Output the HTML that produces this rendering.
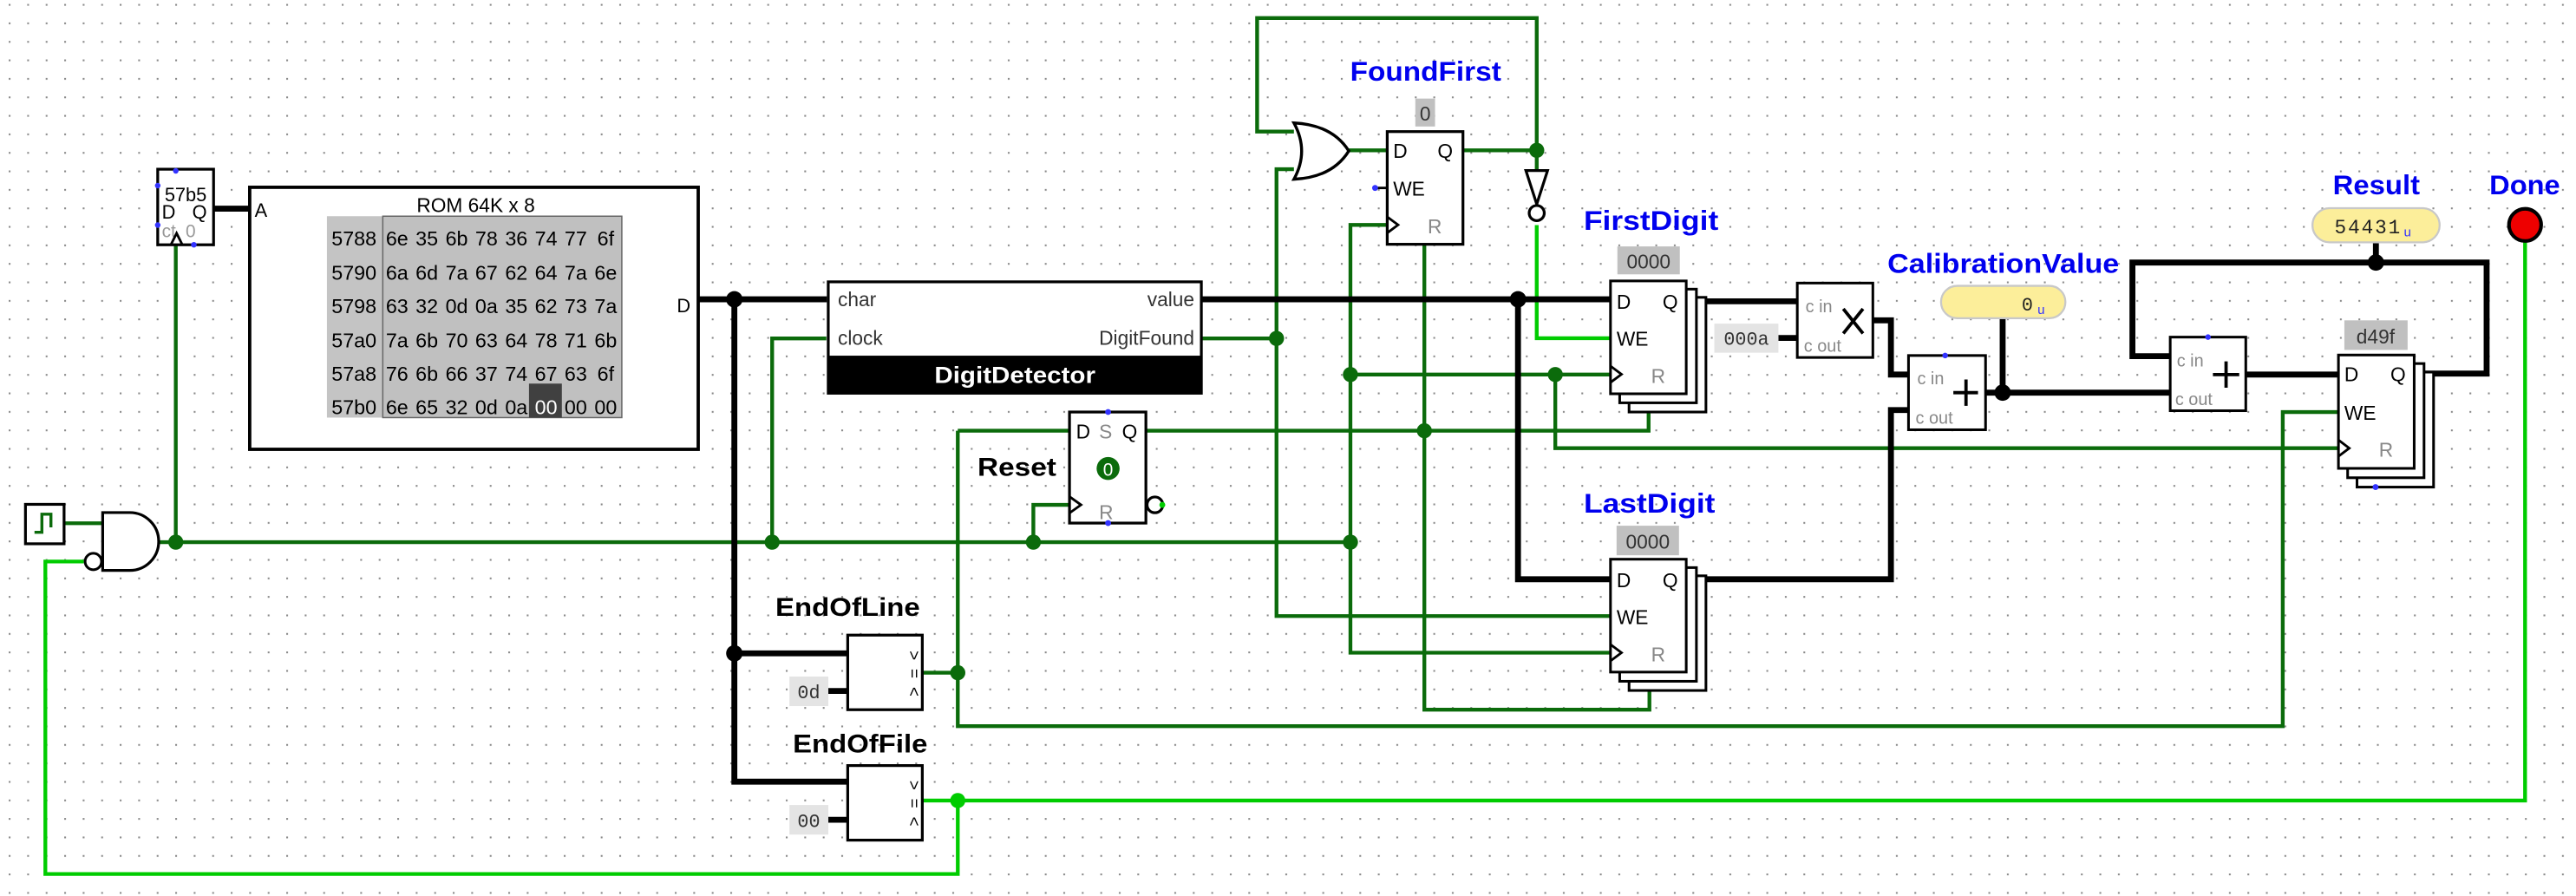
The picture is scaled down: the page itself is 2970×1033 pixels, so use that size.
<!DOCTYPE html>
<html><head><meta charset="utf-8"><style>
html,body{margin:0;padding:0;background:#fff;}
svg{display:block;}
text{font-family:"Liberation Sans",sans-serif;}
.lb{font-weight:bold;fill:#0000ee;font-size:16.5px;}
.bl{font-weight:bold;fill:#000;font-size:15.5px;}
.mono{font-family:"Liberation Mono",monospace;}
</style></head><body>
<svg width="2970" height="1033" viewBox="0 0 1568 545.4" preserveAspectRatio="none" xmlns="http://www.w3.org/2000/svg">
<defs>
<pattern id="g" x="5.3" y="2.4" width="11.262" height="11.262" patternUnits="userSpaceOnUse"><rect x="0" y="0" width="1.1" height="1.1" fill="#8a8a8a"/></pattern>
</defs>
<rect width="1568" height="545.4" fill="#fff"/>
<rect width="1568" height="545.4" fill="url(#g)"/>

<!-- dark green wires -->
<g fill="none" stroke="#0b6b0b" stroke-width="2.3" stroke-linejoin="miter">
<path d="M39,318.5 H62.5"/>
<path d="M96.5,330 H822"/>
<path d="M107,330 V149"/>
<path d="M470,330 V206 H503"/>
<path d="M629,330 V307.3 H651"/>
<path d="M787.6,80.1 H765.2 V11 H935.4 V104"/>
<path d="M890.5,91.5 H935.4"/>
<path d="M821,91.5 H844.4"/>
<path d="M787.6,103 H777 V375 H980"/>
<path d="M732,206 H777"/>
<path d="M844.4,136.9 H822 V397.3 H980"/>
<path d="M822,228 H980"/>
<path d="M946.7,228 V272.8 H1423.4"/>
<path d="M867,148.7 V432 H1004 V419.6"/>
<path d="M697.5,262.2 H1003.5 V250.8"/>
<path d="M583,262.2 H651 M583,262.2 V442 H1389.5 V250.8 H1423.4"/>
<path d="M561.4,409.5 H583"/>
</g>
<!-- light green wires -->
<g fill="none" stroke="#00cc00" stroke-width="2.3">
<path d="M935.4,137 V205.9 H980"/>
<path d="M51,341.8 H27.6 V532 H583 V487.3"/>
<path d="M561.4,487.3 H1537 V147"/>
</g>
<!-- buses -->
<g fill="none" stroke="#000" stroke-width="3.6">
<path d="M130,127 H152"/>
<path d="M425,182.2 H503.3"/>
<path d="M447,182.2 V475.8 H516"/>
<path d="M447,397.7 H516"/>
<path d="M732,182.2 H980.3"/>
<path d="M924,182.2 V352.6 H980.3"/>
<path d="M1026.4,183.4 H1094"/>
<path d="M1082.5,205.7 H1094"/>
<path d="M1140,195 H1151 V228 H1161.7"/>
<path d="M1026.4,352.6 H1151 V249.6 H1161.7"/>
<path d="M1208.6,239 H1321"/>
<path d="M1219,193.7 V239"/>
<path d="M1367,228 H1423.4"/>
<path d="M1469.5,227.4 H1513.6 V159.8 H1298 V216.8 H1321"/>
<path d="M1446.2,147.5 V159.8"/>
<path d="M504.2,420.6 H516"/>
<path d="M504.2,499 H516"/>
</g>
<!-- junctions -->
<g fill="#000">
<circle cx="447" cy="182.2" r="5"/><circle cx="447" cy="397.7" r="5"/>
<circle cx="924" cy="182.2" r="5"/><circle cx="1219" cy="239" r="5"/>
<circle cx="1446.2" cy="159.8" r="5"/>
</g>
<g fill="#0b6b0b">
<circle cx="107" cy="330" r="4.6"/><circle cx="470" cy="330" r="4.6"/>
<circle cx="629" cy="330" r="4.6"/><circle cx="822" cy="330" r="4.6"/>
<circle cx="777" cy="206" r="4.6"/><circle cx="822" cy="228" r="4.6"/>
<circle cx="946.7" cy="228" r="4.6"/><circle cx="867" cy="262.2" r="4.6"/>
<circle cx="935.4" cy="91.5" r="4.6"/><circle cx="583" cy="409.5" r="4.6"/>
</g>
<circle cx="583" cy="487.3" r="4.6" fill="#00cc00"/>

<!-- clock + AND -->
<rect x="15.5" y="307" width="23.5" height="24" fill="#fff" stroke="#000" stroke-width="1.7"/>
<path d="M21,324 H25.5 V313 H31 V321" fill="none" stroke="#0b6b0b" stroke-width="1.8"/>
<path d="M62.5,312 H79 A17.6,17.6 0 0 1 79,347.2 H62.5 Z" fill="#fff" stroke="#000" stroke-width="1.7"/>
<circle cx="56.8" cy="341.8" r="5" fill="#fff" stroke="#000" stroke-width="1.6"/>

<!-- counter register -->
<rect x="96" y="103" width="34" height="46" fill="#fff" stroke="#000" stroke-width="1.7"/>
<text x="113" y="122.5" font-size="11.5" text-anchor="middle">57b5</text>
<text x="98.5" y="133" font-size="11.5">D</text><text x="117" y="133" font-size="11.5">Q</text>
<text x="98.5" y="144.5" font-size="11" fill="#999">ct</text><text x="113" y="144.5" font-size="11" fill="#999">0</text>
<path d="M104,149 L107.5,142 L111,149" fill="none" stroke="#000" stroke-width="1.5"/>
<circle cx="107" cy="104" r="1.7" fill="#33f"/><circle cx="96" cy="113" r="1.7" fill="#33f"/><circle cx="96" cy="137" r="1.7" fill="#33f"/><circle cx="118" cy="149" r="1.7" fill="#33f"/>

<!-- ROM -->
<rect x="152" y="114" width="273" height="159.5" fill="#fff" stroke="#000" stroke-width="2"/>
<text x="155" y="132" font-size="11.5">A</text>
<text x="412" y="190" font-size="11.5">D</text>
<text x="289.6" y="129" font-size="12" text-anchor="middle">ROM 64K x 8</text>
<rect x="199" y="131.6" width="34" height="122.6" fill="#c4c4c4"/>
<rect x="233" y="131.6" width="145.5" height="122.6" fill="#c0c0c0" stroke="#666" stroke-width="0.8"/>
<rect x="322" y="233.5" width="20" height="20.7" fill="#404040"/>
<g font-size="12.3" text-anchor="middle">
<text x="215.5" y="149.5">5788</text><text x="215.5" y="170.2">5790</text><text x="215.5" y="190.7">5798</text><text x="215.5" y="211.5">57a0</text><text x="215.5" y="231.9">57a8</text><text x="215.5" y="252.2">57b0</text>
<text y="149.5"><tspan x="241.7">6e</tspan><tspan x="259.8">35</tspan><tspan x="278">6b</tspan><tspan x="296.1">78</tspan><tspan x="314.3">36</tspan><tspan x="332.4">74</tspan><tspan x="350.5">77</tspan><tspan x="368.7">6f</tspan></text>
<text y="170.2"><tspan x="241.7">6a</tspan><tspan x="259.8">6d</tspan><tspan x="278">7a</tspan><tspan x="296.1">67</tspan><tspan x="314.3">62</tspan><tspan x="332.4">64</tspan><tspan x="350.5">7a</tspan><tspan x="368.7">6e</tspan></text>
<text y="190.7"><tspan x="241.7">63</tspan><tspan x="259.8">32</tspan><tspan x="278">0d</tspan><tspan x="296.1">0a</tspan><tspan x="314.3">35</tspan><tspan x="332.4">62</tspan><tspan x="350.5">73</tspan><tspan x="368.7">7a</tspan></text>
<text y="211.5"><tspan x="241.7">7a</tspan><tspan x="259.8">6b</tspan><tspan x="278">70</tspan><tspan x="296.1">63</tspan><tspan x="314.3">64</tspan><tspan x="332.4">78</tspan><tspan x="350.5">71</tspan><tspan x="368.7">6b</tspan></text>
<text y="231.9"><tspan x="241.7">76</tspan><tspan x="259.8">6b</tspan><tspan x="278">66</tspan><tspan x="296.1">37</tspan><tspan x="314.3">74</tspan><tspan x="332.4">67</tspan><tspan x="350.5">63</tspan><tspan x="368.7">6f</tspan></text>
<text y="252.2"><tspan x="241.7">6e</tspan><tspan x="259.8">65</tspan><tspan x="278">32</tspan><tspan x="296.1">0d</tspan><tspan x="314.3">0a</tspan><tspan x="332.4" fill="#fff">00</tspan><tspan x="350.5">00</tspan><tspan x="368.7">00</tspan></text>
</g>

<!-- DigitDetector -->
<rect x="503.3" y="170.7" width="228.8" height="69.5" fill="#000"/>
<rect x="505" y="172.4" width="225.4" height="44.1" fill="#fff"/>
<text x="510" y="186.5" font-size="12" fill="#333">char</text>
<text x="510" y="210" font-size="12" fill="#333">clock</text>
<text x="727" y="186.5" font-size="12" fill="#333" text-anchor="end">value</text>
<text x="727" y="210" font-size="12" fill="#333" text-anchor="end">DigitFound</text>
<text x="617.8" y="233" font-size="14" font-weight="bold" fill="#fff" text-anchor="middle" textLength="98" lengthAdjust="spacingAndGlyphs">DigitDetector</text>

<!-- OR gate -->
<path d="M787.6,74.8 Q811,76 821,91.9 Q811,108 787.6,109.1 Q797,92 787.6,74.8 Z" fill="#fff" stroke="#000" stroke-width="1.8"/>
<!-- FoundFirst reg -->
<text x="867.8" y="49" class="lb" text-anchor="middle" textLength="92" lengthAdjust="spacingAndGlyphs">FoundFirst</text>
<rect x="861.5" y="60" width="12" height="17" fill="#c0c0c0"/>
<text x="867.5" y="73.5" font-size="12" fill="#333" text-anchor="middle">0</text>
<rect x="844.4" y="80.1" width="46.1" height="68.6" fill="#fff" stroke="#000" stroke-width="1.7"/>
<text x="848" y="96" font-size="12">D</text><text x="875" y="96" font-size="12">Q</text>
<text x="848" y="119" font-size="12">WE</text>
<text x="869" y="142" font-size="12" fill="#888">R</text>
<path d="M844.4,132 L851,136.9 L844.4,141.8" fill="none" stroke="#000" stroke-width="1.5"/>
<path d="M838,114.4 H844.4" stroke="#000" stroke-width="1.5"/><circle cx="837" cy="114.4" r="1.8" fill="#33f"/>
<!-- NOT -->
<path d="M928.8,103.8 H942 L935.4,124.3 Z" fill="#fff" stroke="#000" stroke-width="1.7"/>
<circle cx="935.4" cy="129.7" r="4.6" fill="#fff" stroke="#000" stroke-width="1.7"/>

<!-- FirstDigit -->
<text x="1005" y="140" class="lb" text-anchor="middle" textLength="82" lengthAdjust="spacingAndGlyphs">FirstDigit</text>
<rect x="984.5" y="150" width="38" height="17" fill="#c0c0c0"/>
<text x="1003.5" y="163.5" font-size="12" fill="#333" text-anchor="middle">0000</text>
<g fill="#fff" stroke="#000" stroke-width="1.6">
<rect x="991.6" y="181" width="46.8" height="69.8"/>
<rect x="985.9" y="176" width="46.7" height="69.2"/>
<rect x="980.3" y="171" width="46.1" height="68.7"/>
</g>
<text x="984" y="188" font-size="12">D</text><text x="1012" y="188" font-size="12">Q</text>
<text x="984" y="210.5" font-size="12">WE</text>
<text x="1005" y="233" font-size="12" fill="#888">R</text>
<path d="M980.3,222.8 L987,227.8 L980.3,232.8" fill="none" stroke="#000" stroke-width="1.5"/>

<!-- LastDigit -->
<text x="1004" y="312" class="lb" text-anchor="middle" textLength="80" lengthAdjust="spacingAndGlyphs">LastDigit</text>
<rect x="984" y="320" width="38" height="18" fill="#c0c0c0"/>
<text x="1003" y="334" font-size="12" fill="#333" text-anchor="middle">0000</text>
<g fill="#fff" stroke="#000" stroke-width="1.6">
<rect x="991.6" y="350.5" width="46.8" height="69.8"/>
<rect x="985.9" y="345.5" width="46.7" height="69.2"/>
<rect x="980.3" y="340.4" width="46.1" height="68.7"/>
</g>
<text x="984" y="357.5" font-size="12">D</text><text x="1012" y="357.5" font-size="12">Q</text>
<text x="984" y="380" font-size="12">WE</text>
<text x="1005" y="402.5" font-size="12" fill="#888">R</text>
<path d="M980.3,392.3 L987,397.3 L980.3,402.3" fill="none" stroke="#000" stroke-width="1.5"/>

<!-- Multiplier -->
<rect x="1082.5" y="197" width="0" height="0"/>
<rect x="1043.5" y="197" width="39" height="17.7" fill="#e4e4e4"/>
<text x="1063" y="210" font-size="11.5" class="mono" fill="#333" text-anchor="middle">000a</text>
<rect x="1094" y="172.3" width="46" height="45.3" fill="#fff" stroke="#000" stroke-width="1.6"/>
<text x="1099" y="190" font-size="10.5" fill="#888">c in</text>
<text x="1098" y="214" font-size="10.5" fill="#888">c out</text>
<path d="M1122,188 L1134,203 M1134,188 L1122,203" stroke="#000" stroke-width="2"/>

<!-- Adder1 -->
<rect x="1161.7" y="216.4" width="46.9" height="45.2" fill="#fff" stroke="#000" stroke-width="1.6"/>
<text x="1167" y="234" font-size="10.5" fill="#888">c in</text>
<text x="1166" y="258" font-size="10.5" fill="#888">c out</text>
<path d="M1196.7,231 V247 M1189,239 H1204" stroke="#000" stroke-width="2"/>
<circle cx="1184" cy="216.4" r="1.7" fill="#33f"/>
<!-- CalibrationValue -->
<text x="1219.4" y="166" class="lb" text-anchor="middle" textLength="141" lengthAdjust="spacingAndGlyphs">CalibrationValue</text>
<rect x="1181.5" y="174" width="75.7" height="19.7" rx="9.8" fill="#fcee9a" stroke="#c8c8c8" stroke-width="1.2"/>
<text x="1234" y="189" font-size="11.5" class="mono" fill="#222" text-anchor="middle">0</text>
<text x="1240" y="191" font-size="8" class="mono" fill="#33f">u</text>

<!-- Adder2 -->
<rect x="1321" y="205.2" width="46" height="44.8" fill="#fff" stroke="#000" stroke-width="1.6"/>
<text x="1325" y="223" font-size="10.5" fill="#888">c in</text>
<text x="1324" y="246.5" font-size="10.5" fill="#888">c out</text>
<path d="M1355,220 V236 M1347,228 H1363" stroke="#000" stroke-width="2"/>
<circle cx="1344" cy="205.2" r="1.7" fill="#33f"/>

<!-- Result register -->
<rect x="1427" y="195" width="38.5" height="18" fill="#c0c0c0"/>
<text x="1446" y="209" font-size="12" fill="#333" text-anchor="middle">d49f</text>
<g fill="#fff" stroke="#000" stroke-width="1.6">
<rect x="1434.7" y="226.5" width="46.6" height="70"/>
<rect x="1429" y="221.3" width="46.5" height="69.5"/>
<rect x="1423.4" y="216.1" width="46.1" height="69"/>
</g>
<text x="1427" y="232" font-size="12">D</text><text x="1455" y="232" font-size="12">Q</text>
<text x="1427" y="255.5" font-size="12">WE</text>
<text x="1448" y="278" font-size="12" fill="#888">R</text>
<path d="M1423.4,267.8 L1430,272.8 L1423.4,277.8" fill="none" stroke="#000" stroke-width="1.5"/>
<circle cx="1446" cy="296.5" r="1.8" fill="#33f"/>

<!-- Result probe & Done -->
<text x="1446.5" y="118.3" class="lb" text-anchor="middle" textLength="53" lengthAdjust="spacingAndGlyphs">Result</text>
<rect x="1407.6" y="126.7" width="77.4" height="20.8" rx="10.4" fill="#fcee9a" stroke="#c8c8c8" stroke-width="1.2"/>
<text x="1441" y="142" font-size="12" class="mono" fill="#222" text-anchor="middle" textLength="40" lengthAdjust="spacing">54431</text>
<text x="1463" y="144" font-size="8" class="mono" fill="#33f">u</text>
<text x="1536.8" y="118.3" class="lb" text-anchor="middle" textLength="43" lengthAdjust="spacingAndGlyphs">Done</text>
<circle cx="1537" cy="136.9" r="9.8" fill="#ee0000" stroke="#000" stroke-width="2.2"/>

<!-- Reset -->
<text x="619" y="289.5" class="bl" text-anchor="middle" textLength="48" lengthAdjust="spacingAndGlyphs">Reset</text>
<rect x="651" y="250.8" width="46.5" height="67.6" fill="#fff" stroke="#000" stroke-width="1.7"/>
<text x="655" y="267" font-size="12">D</text>
<text x="669" y="267" font-size="12" fill="#888">S</text>
<text x="683" y="267" font-size="12">Q</text>
<circle cx="674.5" cy="285.2" r="7" fill="#0b6b0b"/>
<text x="674.5" y="289.5" font-size="11" fill="#fff" text-anchor="middle">0</text>
<text x="669" y="316" font-size="12" fill="#888">R</text>
<path d="M651,302.3 L658,307.3 L651,312.3" fill="none" stroke="#000" stroke-width="1.5"/>
<circle cx="703" cy="307.3" r="4.8" fill="#fff" stroke="#000" stroke-width="1.7"/>
<circle cx="707.5" cy="307.3" r="1.8" fill="#00cc00"/>
<circle cx="674.5" cy="250.8" r="1.8" fill="#33f"/><circle cx="674.5" cy="318.4" r="1.8" fill="#33f"/>

<!-- EndOfLine -->
<text x="516" y="375" class="bl" text-anchor="middle" textLength="88" lengthAdjust="spacingAndGlyphs">EndOfLine</text>
<rect x="480.5" y="411.8" width="23.7" height="18" fill="#e4e4e4"/>
<text x="492.3" y="425" font-size="11.5" class="mono" fill="#333" text-anchor="middle">0d</text>
<rect x="516" y="386.6" width="45.4" height="45.4" fill="#fff" stroke="#000" stroke-width="1.7"/>
<g font-size="10" fill="#000" text-anchor="middle">
<text transform="translate(553,399) rotate(90)">&gt;</text>
<text transform="translate(553,410) rotate(90)">=</text>
<text transform="translate(553,421) rotate(90)">&lt;</text>
</g>
<!-- EndOfFile -->
<text x="523.6" y="458" class="bl" text-anchor="middle" textLength="82" lengthAdjust="spacingAndGlyphs">EndOfFile</text>
<rect x="480.5" y="490" width="23.7" height="18" fill="#e4e4e4"/>
<text x="492.3" y="503.5" font-size="11.5" class="mono" fill="#333" text-anchor="middle">00</text>
<rect x="516" y="466" width="45.4" height="45.4" fill="#fff" stroke="#000" stroke-width="1.7"/>
<g font-size="10" fill="#000" text-anchor="middle">
<text transform="translate(553,478) rotate(90)">&gt;</text>
<text transform="translate(553,489) rotate(90)">=</text>
<text transform="translate(553,500) rotate(90)">&lt;</text>
</g>
</svg>
</body></html>
